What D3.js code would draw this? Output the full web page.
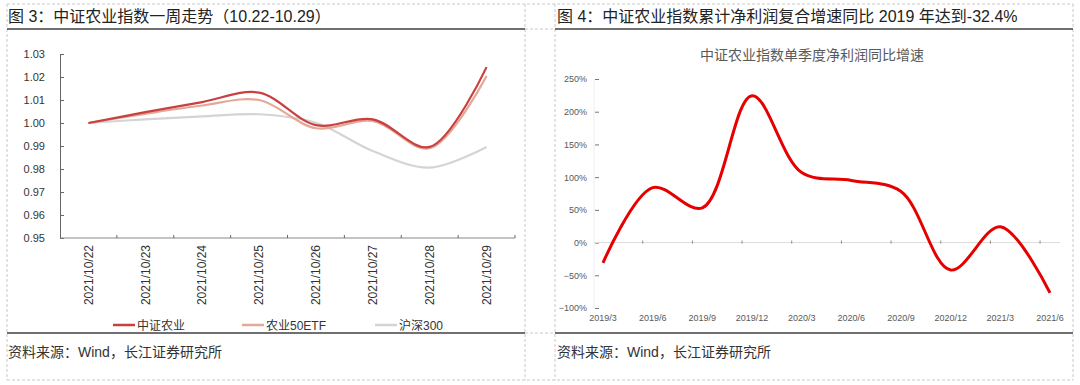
<!DOCTYPE html>
<html>
<head>
<meta charset="utf-8">
<script src="https://cdn.jsdelivr.net/npm/d3@7/dist/d3.min.js"></script>
<style>
  body { margin: 0; background: #fff; }
  svg { display: block; font-family: "Liberation Sans", "Noto Sans CJK SC", sans-serif; }
</style>
</head>
<body>
<svg id="canvas" width="1080" height="385"></svg>
<script>
// left chart data
let dates = ['2021/10/22', '2021/10/23', '2021/10/24', '2021/10/25', '2021/10/26', '2021/10/27', '2021/10/28', '2021/10/29']
let agriIndex = [1.000, 1.0047, 1.0091, 1.0132, 0.9991, 1.0016, 0.9896, 1.0243]
let agriEtf = [1.000, 1.0040, 1.0076, 1.0100, 0.9977, 1.0009, 0.9890, 1.0204]
let hs300 = [1.000, 1.0016, 1.0029, 1.0038, 1.0001, 0.9878, 0.9806, 0.9896]
let leftTicks = [0.95, 0.96, 0.97, 0.98, 0.99, 1.00, 1.01, 1.02, 1.03]
let seriesNames = ['中证农业', '农业50ETF', '沪深300']

// right chart data
let quarters = ['2019/3', '2019/6', '2019/9', '2019/12', '2020/3', '2020/6', '2020/9', '2020/12', '2021/3', '2021/6']
let profitGrowth = [-0.31, 0.84, 0.53, 2.245, 1.07, 0.95, 0.78, -0.42, 0.243, -0.77]
let rightTicks = [-1, -0.5, 0, 0.5, 1, 1.5, 2, 2.5]

let canvas = d3.select('#canvas')

// frame: dashed cell borders
let dash = canvas.append('g')
    .attr('stroke', '#c8c8c8')
    .attr('stroke-dasharray', '3,2')
    .attr('fill', 'none')
let dashLines = [
    [7, 4, 1073, 4], [7, 380, 1073, 380],
    [7, 4, 7, 380], [525, 4, 525, 380], [555, 4, 555, 380], [1073, 4, 1073, 380],
    [525, 29, 555, 29], [525, 333, 555, 333]
]
dashLines.forEach((l) => {
    dash.append('line').attr('x1', l[0]).attr('y1', l[1]).attr('x2', l[2]).attr('y2', l[3])
})

// solid rules under the titles and above the sources
let rules = [[7, 29, 525, 29], [555, 29, 1073, 29], [7, 333, 525, 333], [555, 333, 1073, 333]]
rules.forEach((l) => {
    canvas.append('line')
        .attr('x1', l[0]).attr('y1', l[1]).attr('x2', l[2]).attr('y2', l[3])
        .attr('stroke', '#404040')
        .attr('stroke-width', 1.5)
})

canvas.append('text')
    .attr('x', 8).attr('y', 22)
    .attr('font-size', 16).attr('fill', '#222')
    .text('图 3：中证农业指数一周走势（10.22-10.29）')
canvas.append('text')
    .attr('x', 557).attr('y', 22)
    .attr('font-size', 16).attr('fill', '#222')
    .text('图 4：中证农业指数累计净利润复合增速同比 2019 年达到-32.4%')

canvas.append('text')
    .attr('x', 8).attr('y', 357)
    .attr('font-size', 14).attr('fill', '#333')
    .text('资料来源：Wind，长江证券研究所')
canvas.append('text')
    .attr('x', 557).attr('y', 357)
    .attr('font-size', 14).attr('fill', '#333')
    .text('资料来源：Wind，长江证券研究所')

// ---------- left chart ----------
let xLeft = d3.scaleBand().domain(dates).range([60, 515])
let yLeft = d3.scaleLinear().domain([0.95, 1.03]).range([238, 54])

let yAxisLeft = d3.axisLeft(yLeft)
    .tickValues(leftTicks)
    .tickFormat(d3.format('.2f'))
    .tickSizeInner(-4)
    .tickSizeOuter(0)
    .tickPadding(15)

let gy = canvas.append('g')
    .attr('transform', 'translate(60,0)')
    .call(yAxisLeft)
gy.select('.domain').attr('stroke', '#666')
gy.selectAll('.tick line').attr('stroke', '#666')
gy.selectAll('.tick text').attr('font-size', 11).attr('fill', '#333')
    .attr('font-family', '"Liberation Sans", sans-serif')

// x axis line with ticks on band edges
canvas.append('line')
    .attr('x1', xLeft.range()[0]).attr('x2', xLeft.range()[1])
    .attr('y1', yLeft(0.95)).attr('y2', yLeft(0.95))
    .attr('stroke', '#888')
let edges = dates.map((d) => xLeft(d)).slice(1).concat([xLeft.range()[1]])
canvas.selectAll('.xedge')
    .data(edges)
    .enter()
    .append('line')
    .attr('x1', (d) => d).attr('x2', (d) => d)
    .attr('y1', yLeft(0.95) - 3).attr('y2', yLeft(0.95))
    .attr('stroke', '#666')

canvas.selectAll('.xlabel')
    .data(dates)
    .enter()
    .append('text')
    .attr('transform', (d) => 'translate(' + (xLeft(d) + xLeft.bandwidth() / 2) + ',245) rotate(-90)')
    .attr('text-anchor', 'end')
    .attr('dy', '0.35em')
    .attr('font-size', 12)
    .attr('fill', '#333')
    .text((d) => d)

let leftSeries = [
    { name: seriesNames[2], values: hs300, color: '#d4d4d4' },
    { name: seriesNames[1], values: agriEtf, color: '#e3a898' },
    { name: seriesNames[0], values: agriIndex, color: '#c8403f' }
]

let lineLeft = d3.line()
    .x((d, i) => xLeft(dates[i]) + xLeft.bandwidth() / 2)
    .y((d) => yLeft(d))
    .curve(d3.curveCatmullRom.alpha(0.5))

leftSeries.forEach((s) => {
    canvas.append('path')
        .datum(s.values)
        .attr('d', lineLeft)
        .attr('fill', 'none')
        .attr('stroke', s.color)
        .attr('stroke-width', 2.2)
})

// legend
let legendX = [113, 242, 375]
let legendItems = [leftSeries[2], leftSeries[1], leftSeries[0]]
legendItems.forEach((s, i) => {
    canvas.append('line')
        .attr('x1', legendX[i]).attr('x2', legendX[i] + 22)
        .attr('y1', 325).attr('y2', 325)
        .attr('stroke', s.color)
        .attr('stroke-width', 2.5)
    canvas.append('text')
        .attr('x', legendX[i] + 24).attr('y', 329.5)
        .attr('font-size', 12)
        .attr('fill', '#333')
        .text(s.name)
})

// ---------- right chart ----------
let xRight = d3.scalePoint().domain(quarters).range([603, 1050])
let yRight = d3.scaleLinear().domain([-1, 2.5]).range([308, 79])

canvas.append('text')
    .attr('x', 812).attr('y', 60)
    .attr('text-anchor', 'middle')
    .attr('font-size', 14)
    .attr('fill', '#595959')
    .text('中证农业指数单季度净利润同比增速')

// faint value axis
canvas.append('line')
    .attr('x1', 594).attr('x2', 594)
    .attr('y1', yRight(2.5)).attr('y2', yRight(-1))
    .attr('stroke', '#eeeeee')

let yAxisRight = d3.axisLeft(yRight)
    .tickValues(rightTicks)
    .tickFormat(d3.format('.0%'))
    .tickSizeInner(-4)
    .tickSizeOuter(0)
    .tickPadding(8)

let gyr = canvas.append('g')
    .attr('transform', 'translate(595,0)')
    .call(yAxisRight)
gyr.select('.domain').remove()
gyr.selectAll('.tick line').attr('stroke', '#777')
gyr.selectAll('.tick text').attr('font-size', 9).attr('fill', '#595959')
    .attr('font-family', '"Liberation Sans", sans-serif')

// zero line with small ticks
canvas.append('line')
    .attr('x1', 594).attr('x2', 1060)
    .attr('y1', yRight(0)).attr('y2', yRight(0))
    .attr('stroke', '#dcdcdc')
canvas.selectAll('.qtick')
    .data(quarters.slice(0, -1))
    .enter()
    .append('line')
    .attr('x1', (d) => xRight(d) + xRight.step() * 0.8)
    .attr('x2', (d) => xRight(d) + xRight.step() * 0.8)
    .attr('y1', yRight(0) - 2).attr('y2', yRight(0) + 1)
    .attr('stroke', '#888')

canvas.selectAll('.qlabel')
    .data(quarters)
    .enter()
    .append('text')
    .attr('x', (d) => xRight(d))
    .attr('y', 321)
    .attr('text-anchor', 'middle')
    .attr('font-size', 9)
    .attr('fill', '#595959')
    .text((d) => d)

let lineRight = d3.line()
    .x((d, i) => xRight(quarters[i]))
    .y((d) => yRight(d))
    .curve(d3.curveCatmullRom.alpha(0.5))

canvas.append('path')
    .datum(profitGrowth)
    .attr('d', lineRight)
    .attr('fill', 'none')
    .attr('stroke', '#e60000')
    .attr('stroke-width', 3)
</script>
</body>
</html>
